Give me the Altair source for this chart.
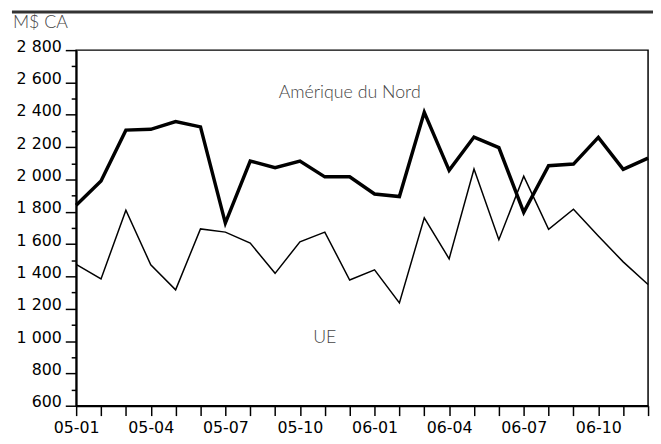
import altair as alt
import pandas as pd

months = ["05-01", "05-02", "05-03", "05-04", "05-05", "05-06", "05-07", "05-08",
          "05-09", "05-10", "05-11", "05-12", "06-01", "06-02", "06-03", "06-04",
          "06-05", "06-06", "06-07", "06-08", "06-09", "06-10", "06-11", "06-12"]
amerique_du_nord = [1840, 1990, 2305, 2310, 2358, 2325, 1730, 2114, 2073, 2114, 2016, 2016,
                    1910, 1894, 2415, 2056, 2262, 2197, 1796, 2085, 2095, 2260, 2062, 2132]
ue = [1474, 1384, 1810, 1472, 1317, 1694, 1674, 1606, 1419, 1614, 1674, 1378,
      1441, 1236, 1763, 1509, 2065, 1627, 2020, 1692, 1816, 1650, 1490, 1350]
y_major = list(range(600, 2900, 200))
y_minor = list(range(700, 2800, 200))

series_labels = ["Amérique du Nord", "UE"]
label_months = ["05-12", "05-11"]
label_values = [2505, 985]

df = pd.DataFrame({
    "mois": months * 2,
    "valeur": amerique_du_nord + ue,
    "serie": ["Amérique du Nord"] * len(months) + ["UE"] * len(months),
})
lab = pd.DataFrame({"mois": label_months, "valeur": label_values, "texte": series_labels})
minor_df = pd.DataFrame({"v": y_minor})

yscale = alt.Scale(domain=[600, 2800], nice=False, zero=False)

x_axis = alt.Axis(title=None, labelAngle=0,
                  labelExpr="(toNumber(substring(datum.value,3,5))-1)%3==0 ? datum.value : ''",
                  tickSize=10, tickWidth=1.5, tickColor="black",
                  domainColor="black", domainWidth=2,
                  labelFont="DejaVu Sans", labelFontSize=16, labelColor="black",
                  labelPadding=4, labelFlush=False, labelOverlap=False)
x_enc = alt.X("mois:O", sort=months, scale=alt.Scale(type="point", padding=0), axis=x_axis)
y_enc = alt.Y("valeur:Q", scale=yscale,
              axis=alt.Axis(title=None, values=y_major, grid=False, orient="left",
                            labelExpr="replace(format(datum.value, ','), ',', ' ')",
                            tickSize=11, tickWidth=1.5, tickColor="black",
                            domainColor="black", domainWidth=2,
                            labelFont="DejaVu Sans", labelFontSize=16, labelColor="black",
                            labelBaseline="alphabetic", labelPadding=4, labelOffset=1,
                            labelFlush=False, labelOverlap=False))

lines = alt.Chart(df).mark_line(color="black").encode(
    x=x_enc, y=y_enc,
    detail="serie:N",
    strokeWidth=alt.StrokeWidth("serie:N", scale=alt.Scale(domain=series_labels, range=[3.5, 1.5]), legend=None),
)

minor = alt.Chart(minor_df).mark_point(opacity=0).encode(
    y=alt.Y("v:Q", scale=yscale,
            axis=alt.Axis(title=None, values=y_minor, grid=False, orient="left", labels=False,
                          domain=False, tickSize=5, tickWidth=1.5, tickColor="black")))

labels = alt.Chart(lab).mark_text(font="Lato", fontSize=18, fontWeight=300, color="#444",
                                  align="center", baseline="alphabetic").encode(
    x=alt.X("mois:O", sort=months, scale=alt.Scale(type="point", padding=0), axis=x_axis),
    y=alt.Y("valeur:Q", axis=None), text="texte:N")

unit_df = pd.DataFrame({"t": ["M$ CA"]})
unit = alt.Chart(unit_df).mark_text(font="Lato", fontSize=18, fontWeight=300, color="#444",
                                    align="left", baseline="alphabetic").encode(
    x=alt.value(-64), y=alt.value(-22), text="t:N")

top_rule = alt.Chart(unit_df).mark_rule(color="#333", strokeWidth=3).encode(
    x=alt.value(-65), x2=alt.value(584), y=alt.value(-38.5))

chart = alt.layer(lines, minor, labels, unit, top_rule).resolve_axis(y="independent").properties(
    width=579, height=360,
    autosize=alt.AutoSizeParams(type="none"),
    padding={"left": 69, "top": 40, "right": 5, "bottom": 28},
).configure_view(stroke="black", strokeWidth=1.5)

chart.save("out.html", embed_options={"renderer": "svg", "actions": False})
